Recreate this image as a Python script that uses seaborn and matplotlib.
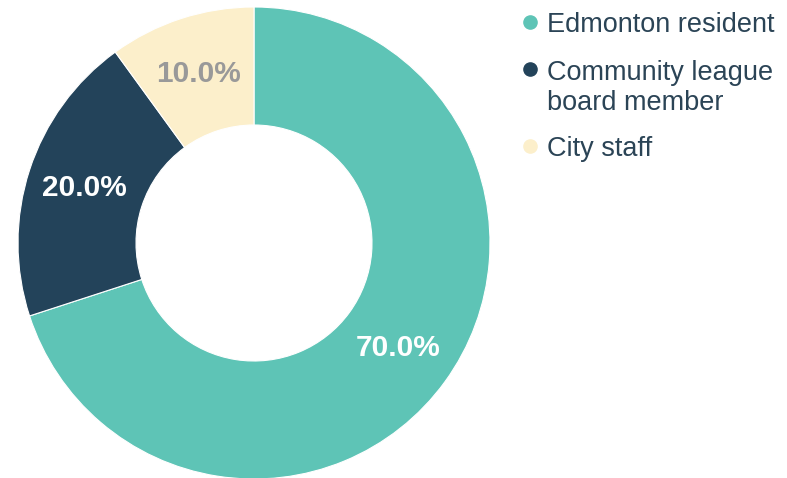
import matplotlib
matplotlib.use("Agg")
import matplotlib.pyplot as plt
import seaborn as sns
from matplotlib.lines import Line2D

# --- data ---
labels = ["Edmonton resident", "Community league\nboard member", "City staff"]
shares = [70.0, 20.0, 10.0]
colors = ["#5EC4B6", "#23435A", "#FCEFCB"]
pct_colors = ["white", "white", "#999999"]

sns.set_theme(style="white")
plt.rcParams["font.family"] = ["Liberation Sans", "DejaVu Sans"]

W, H = 787, 478
fig = plt.figure(figsize=(W / 100, H / 100), dpi=100)

# donut axes, centre ~ (254, 243) px, radius ~ 236 px
cx, cy, r = 254, 243, 236
ax = fig.add_axes([(cx - r) / W, (H - cy - r) / H, 2 * r / W, 2 * r / H])

wedges, texts, autotexts = ax.pie(
    shares,
    colors=colors,
    startangle=90,
    counterclock=False,
    radius=1.0,
    autopct="%.1f%%",
    pctdistance=0.755,
    wedgeprops=dict(width=0.5, edgecolor="white", linewidth=0.8),
    textprops=dict(fontsize=21.5, fontweight="bold"),
)
for t, c in zip(autotexts, pct_colors):
    t.set_color(c)
ax.set_xlim(-1, 1)
ax.set_ylim(-1, 1)
ax.set_aspect("equal")
ax.axis("off")

# --- legend drawn by hand ---
marker_x = 530
text_x = 547
line_step = 31
first_line_y = [22, 69, 146]
for lab, col, yc in zip(labels, colors, first_line_y):
    fig.add_artist(Line2D([marker_x / W], [1 - yc / H], marker="o", markersize=9.5,
                          color=col, linestyle="none", transform=fig.transFigure))
    # matplotlib puts the baseline of the last line at y
    last_y = yc + line_step * lab.count("\n")
    fig.text(text_x / W, 1 - (last_y + 9.5) / H, lab, fontsize=19.5, color="#2B4456",
             ha="left", va="baseline", linespacing=1.2)

fig.savefig("out.png", dpi=100)
